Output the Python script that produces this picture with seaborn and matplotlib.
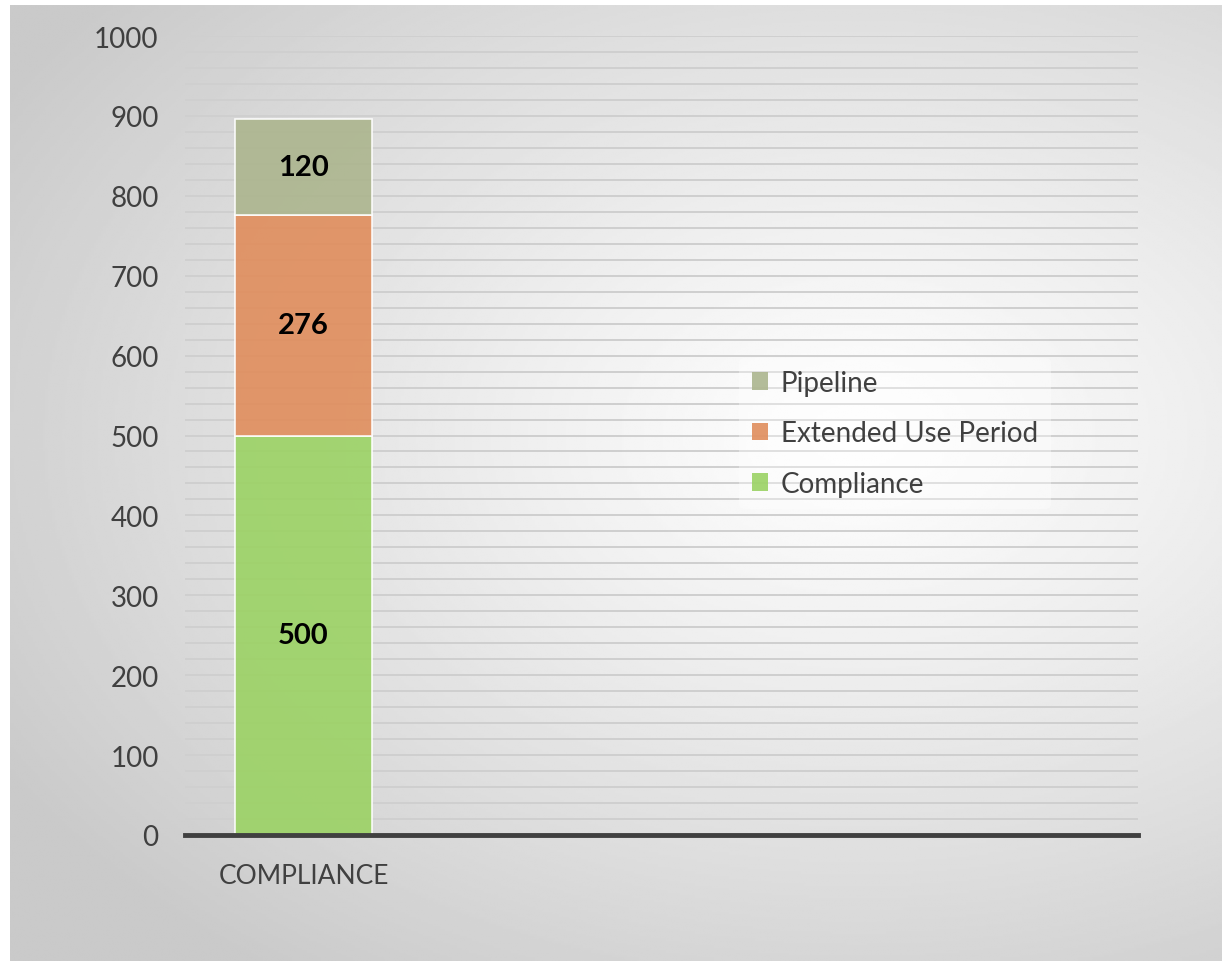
import numpy as np
import pandas as pd
import matplotlib
matplotlib.use("Agg")
import matplotlib.pyplot as plt
import seaborn as sns
from matplotlib.patches import Patch

sns.set_theme(style="white")
plt.rcParams["font.family"] = ["Lato", "DejaVu Sans"]

# ---- data ----
categories = ["COMPLIANCE"]
compliance = [500]
extended_use = [276]
pipeline = [120]
series_names = ["Compliance", "Extended Use Period", "Pipeline"]
COLORS = {"Compliance": "#9bd264", "Extended Use Period": "#e08d5c", "Pipeline": "#acb58e"}
TEXT = "#404040"

df = pd.DataFrame({
    "category": categories,
    "Compliance": compliance,
    "Extended Use Period": extended_use,
    "Pipeline": pipeline,
})

fig = plt.figure(figsize=(12.22, 9.62), dpi=100)

# background panel with a radial grey gradient
bg = fig.add_axes([10 / 1222, 0, 1 - 10 / 1222, 1 - 6 / 962], zorder=-10)
yy, xx = np.mgrid[0:1:400j, 0:1:500j]
dist = np.sqrt(((xx - 0.70) / 1.0) ** 2 + ((yy - 0.45) / 0.85) ** 2)
shade = np.clip(1.0 - 0.26 * dist ** 1.1, 0.79, 1.0)
bg.imshow(shade, cmap="gray", vmin=0, vmax=1, aspect="auto", extent=(0, 1, 0, 1))
bg.set_axis_off()

ax = fig.add_axes([185 / 1222, 126 / 962, 953 / 1222, 799 / 962])
ax.patch.set_alpha(0)

bottom = np.zeros(len(df))
for name in series_names:
    sns.barplot(data=df, x="category", y=name, color=COLORS[name], alpha=0.9,
                bottom=bottom, width=0.8, ax=ax, edgecolor="white", linewidth=1.2,
                saturation=1, zorder=3)
    for i, v in enumerate(df[name]):
        ax.text(i, bottom[i] + v / 2, f"{v}", ha="center", va="center",
                fontsize=21, fontweight="bold", color="black", zorder=5)
    bottom = bottom + df[name].values

ax.set_ylim(0, 1000)
ax.set_xlim(-0.692, 4.873)
ax.set_yticks(np.arange(0, 1001, 100))
ax.set_yticks(np.arange(0, 1001, 20), minor=True)
ax.grid(axis="y", which="both", color="#cfcfcf", linewidth=1.4, zorder=0)
ax.set_axisbelow(True)
ax.tick_params(axis="y", which="both", length=0, labelsize=20, labelcolor=TEXT, pad=19)
ax.tick_params(axis="x", length=0, labelsize=19, labelcolor=TEXT, pad=20)
ax.set_xlabel("")
ax.set_ylabel("")
for s in ["top", "right", "left"]:
    ax.spines[s].set_visible(False)
ax.spines["bottom"].set_color(TEXT)
ax.spines["bottom"].set_linewidth(3.5)
ax.spines["bottom"].set_zorder(6)

handles = [Patch(facecolor=COLORS[n], edgecolor="none", alpha=0.9) for n in series_names[::-1]]
leg = ax.legend(handles, series_names[::-1], loc="upper left", bbox_to_anchor=(0.567, 0.615),
                frameon=True, fontsize=20, handlelength=0.6, handleheight=0.6,
                handletextpad=0.45, labelspacing=0.88, borderpad=0.45)
leg.get_frame().set_facecolor("white")
leg.get_frame().set_alpha(0.35)
leg.get_frame().set_edgecolor("none")
for t in leg.get_texts():
    t.set_color(TEXT)

fig.savefig("out.png", dpi=100)
